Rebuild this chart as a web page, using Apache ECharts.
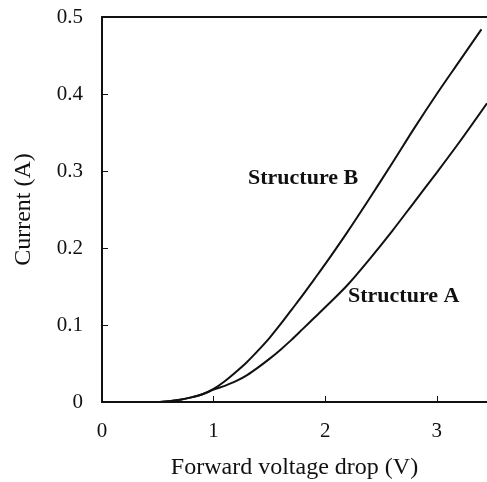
<!DOCTYPE html>
<html>
<head>
<meta charset="utf-8">
<script src="https://cdn.jsdelivr.net/npm/echarts@6/dist/echarts.min.js"></script>
<style>
  html, body { margin: 0; padding: 0; background: #fff; }
  #chart { width: 487px; height: 482px; }
</style>
</head>
<body>
<div id="chart"></div>
<script>
// forward voltage (V) and current (A)
var voltsB = [0, 0.5, 0.6, 0.7, 0.8, 0.9, 1.0, 1.1, 1.2, 1.3, 1.4, 1.5, 1.6, 1.7, 1.8, 1.9, 2.0, 2.2, 2.4, 2.6, 2.8, 3.0, 3.2, 3.4];
var currentB = [0, 0, 0.001, 0.003, 0.006, 0.010, 0.017, 0.027, 0.039, 0.052, 0.067, 0.083, 0.101, 0.120, 0.139, 0.159, 0.179, 0.221, 0.265, 0.310, 0.356, 0.400, 0.442, 0.484];

var voltsA = [0, 0.5, 0.6, 0.7, 0.8, 0.9, 1.0, 1.1, 1.2, 1.3, 1.4, 1.5, 1.6, 1.7, 1.8, 1.9, 2.0, 2.2, 2.4, 2.6, 2.8, 3.0, 3.2, 3.45];
var currentA = [0, 0, 0.001, 0.003, 0.006, 0.010, 0.016, 0.021, 0.027, 0.035, 0.045, 0.056, 0.068, 0.081, 0.095, 0.109, 0.123, 0.152, 0.186, 0.222, 0.260, 0.298, 0.337, 0.388];

var xTicks = [0, 1, 2, 3];
var yTicks = [0, 0.1, 0.2, 0.3, 0.4, 0.5];

function pairs(xs, ys) {
    var out = [];
    for (var i = 0; i < xs.length; i++) out.push([xs[i], ys[i]]);
    return out;
}

window.onload = function () {
    var chart = echarts.init(document.getElementById('chart'));

    var serif = 'Liberation Serif';
    var ink = '#111';

    var option = {
        animation: false,
        grid: { left: 102, right: 0, top: 17, bottom: 80, outerBoundsMode: 'none', containLabel: false },
        xAxis: [{
            type: 'value',
            min: 0,
            max: 3.45,
            interval: 1,
            name: 'Forward voltage drop (V)',
            nameLocation: 'middle',
            nameGap: 54,
            nameTextStyle: { fontFamily: serif, fontSize: 24, color: ink },
            axisLine: { lineStyle: { color: ink, width: 2 } },
            axisTick: { inside: true, length: 6, lineStyle: { color: ink, width: 1 } },
            axisLabel: {
                margin: 19, showMaxLabel: false,
                fontFamily: serif, fontSize: 21, color: ink,
                formatter: function (v) { return xTicks.indexOf(v) >= 0 ? String(v) : ''; }
            },
            splitLine: { show: false }
        }, {
            // top frame line
            type: 'value',
            position: 'top',
            min: 0,
            max: 3.45,
            axisLine: { show: true, lineStyle: { color: ink, width: 2 } },
            axisTick: { show: false },
            axisLabel: { show: false },
            splitLine: { show: false }
        }],
        yAxis: {
            type: 'value',
            min: 0,
            max: 0.5,
            interval: 0.1,
            name: 'Current (A)',
            nameLocation: 'middle',
            nameGap: 66,
            nameTextStyle: { fontFamily: serif, fontSize: 24, color: ink },
            axisLine: { show: true, lineStyle: { color: ink, width: 2 } },
            axisTick: { inside: true, length: 6, lineStyle: { color: ink, width: 1 } },
            axisLabel: {
                margin: 19,
                fontFamily: serif, fontSize: 21, color: ink,
                formatter: function (v) {
                    var t = yTicks.find(function (y) { return Math.abs(y - v) < 1e-9; });
                    if (t === undefined) return '';
                    return t === 0 ? '0' : t.toFixed(1);
                }
            },
            splitLine: { show: false }
        },
        series: [{
            name: 'Structure B',
            type: 'line',
            data: pairs(voltsB, currentB),
            smooth: 0.3,
            showSymbol: false,
            lineStyle: { color: ink, width: 2 }
        }, {
            name: 'Structure A',
            type: 'line',
            data: pairs(voltsA, currentA),
            smooth: 0.3,
            showSymbol: false,
            lineStyle: { color: ink, width: 2 }
        }],
        graphic: [{
            type: 'text', left: 248, top: 167,
            style: { text: 'Structure B', fontFamily: serif, fontWeight: 'bold', fontSize: 22, fill: ink }
        }, {
            type: 'text', left: 348, top: 285,
            style: { text: 'Structure A', fontFamily: serif, fontWeight: 'bold', fontSize: 22, fill: ink }
        }]
    };

    chart.setOption(option);
};
</script>
</body>
</html>
